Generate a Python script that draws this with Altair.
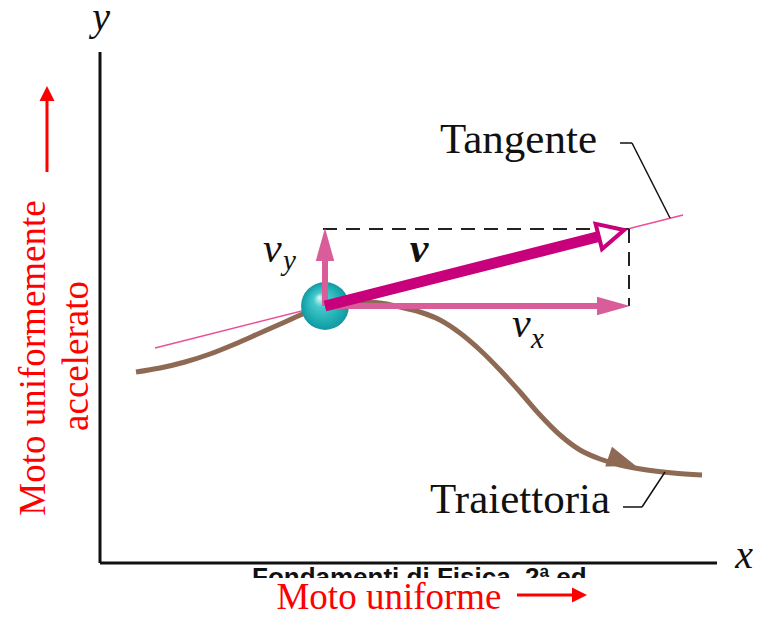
import altair as alt
import pandas as pd

# ---------------- data (diagram frame: origin at the axes corner) ----------------
X_DOMAIN = [-92, 656]
Y_DOMAIN = [-46, 555]

# trajectory (brown curve)
traj_x = [36, 60, 85, 110, 135, 160, 185, 205, 225, 252, 280, 300, 320, 340, 360, 380, 400, 420, 440, 460, 480, 500, 520, 547, 573, 602]
traj_y = [191, 195, 201, 209, 219, 230, 241, 250, 257, 261, 260, 256, 251, 243, 230, 213, 193, 171, 148, 128, 113, 104, 98, 93, 90, 88]

# particle
ball_x = [225]
ball_y = [257]

# axes
axis_x1 = [0, 0]
axis_y1 = [0, 0]
axis_x2 = [0, 617]
axis_y2 = [511, 0]

# tangent line
tan_x1, tan_y1, tan_x2, tan_y2 = [55], [215], [583], [348]

# dashed projection lines
dash_x1 = [223, 529]
dash_y1 = [334, 334]
dash_x2 = [529, 529]
dash_y2 = [334, 257]

# leader lines (Tangente, Traiettoria)
lead_x1 = [520, 532, 523, 542]
lead_y1 = [420, 420, 56, 56]
lead_x2 = [532, 570, 542, 565]
lead_y2 = [420, 345, 56, 91]

# velocity components (shafts)
comp_x1 = [225, 225]
comp_y1 = [257, 257]
comp_x2 = [500, 225]
comp_y2 = [257, 305]
# velocity vector shaft
vel_x1, vel_y1, vel_x2, vel_y2 = [225], [257], [501], [327]

# arrow heads: tip position and direction (degrees, clockwise from +x)
comp_head_x = [530, 225]
comp_head_y = [257, 335]
comp_head_a = [0, 270]
vel_head_x, vel_head_y, vel_head_a = [524], [333], [345.7]
traj_head_x, traj_head_y, traj_head_a = [536], [97], [19]

# red annotation arrows
red_x1 = [-53, 417]
red_y1 = [391, -32]
red_x2 = [-53, 475]
red_y2 = [463, -32]
red_head_x = [-53, 487]
red_head_y = [477, -32]
red_head_a = [270, 0]

# texts
axis_lab_x, axis_lab_y, axis_lab_t = [1, 644], [533, -5], ["y", "x"]
name_lab_x, name_lab_y, name_lab_t = [340], [410], ["Tangente"]
traj_lab_x, traj_lab_y, traj_lab_t = [510], [50], ["Traiettoria"]
vbold_x, vbold_y, vbold_t = [319], [301], ["v"]
vcomp_x, vcomp_y, vcomp_t = [163, 412], [301, 226], ["v", "v"]
vsub_x, vsub_y, vsub_t = [183, 431], [293, 215], ["y", "x"]
red_h_x, red_h_y, red_h_t = [289], [-46], ["Moto uniforme"]
red_v_x, red_v_y, red_v_t = [-55, -12], [205, 207], ["Moto uniformemente", "accelerato"]
src_x, src_y, src_t = [152], [-23], ["Fondamenti di Fisica, 2ª ed."]
cover_x1, cover_y1, cover_x2, cover_y2 = [140], [-15], [560], [-46]

# ---------------- helpers ----------------
XS = alt.Scale(domain=X_DOMAIN, nice=False, zero=False)
YS = alt.Scale(domain=Y_DOMAIN, nice=False, zero=False)


def X(f="x"):
    return alt.X(f"{f}:Q", scale=XS, axis=None)


def Y(f="y"):
    return alt.Y(f"{f}:Q", scale=YS, axis=None)


def segs(x1, y1, x2, y2, **kw):
    df = pd.DataFrame({"x": x1, "y": y1, "x2": x2, "y2": y2})
    return alt.Chart(df).mark_rule(**kw).encode(
        x=X("x"), y=Y("y"), x2="x2:Q", y2="y2:Q")


def heads(xs, ys, angs, length, half, **kw):
    df = pd.DataFrame({"x": xs, "y": ys, "a": angs})
    shape = f"M0,0L-1,-{half}L-1,{half}Z"
    return alt.Chart(df).mark_point(shape=shape, size=(2 * length) ** 2, **kw).encode(
        x=X("x"), y=Y("y"), angle=alt.Angle("a:Q", scale=None))


def texts(xs, ys, ts, **kw):
    df = pd.DataFrame({"x": xs, "y": ys, "t": ts})
    return alt.Chart(df).mark_text(**kw).encode(x=X("x"), y=Y("y"), text="t:N")


SERIF = "Liberation Serif"
BROWN = "#8e6a55"
PINK = "#d85d98"
MAGENTA = "#c8007c"
RED = "#ff0000"

# ---------------- layers ----------------
src_text = texts(src_x, src_y, src_t, font="Liberation Sans", fontWeight="bold",
                 fontSize=26, align="left", baseline="alphabetic", color="#111")
cover = alt.Chart(pd.DataFrame({"x": cover_x1, "y": cover_y1, "x2": cover_x2, "y2": cover_y2})).mark_rect(
    color="white").encode(x=X("x"), y=Y("y"), x2="x2:Q", y2="y2:Q")

axes = segs(axis_x1, axis_y1, axis_x2, axis_y2, color="#111", strokeWidth=3)

traj_df = pd.DataFrame({"x": traj_x, "y": traj_y, "i": range(len(traj_x))})
traj = alt.Chart(traj_df).mark_line(color=BROWN, strokeWidth=5, interpolate="catmull-rom").encode(
    x=X("x"), y=Y("y"), order="i:Q")
traj_head = heads(traj_head_x, traj_head_y, traj_head_a, 29, 0.36, filled=True, color=BROWN, opacity=1)

tangent = segs(tan_x1, tan_y1, tan_x2, tan_y2, color="#ea4f97", strokeWidth=1.5)
leaders = segs(lead_x1, lead_y1, lead_x2, lead_y2, color="#111", strokeWidth=1.5)
dashed = segs(dash_x1, dash_y1, dash_x2, dash_y2, color="#222", strokeWidth=2, strokeDash=[14, 9])

ball_fill = {
    "gradient": "radial",
    "x1": 0.38, "y1": 0.32, "r1": 0.0,
    "x2": 0.5, "y2": 0.5, "r2": 0.5,
    "stops": [
        {"offset": 0.0, "color": "#e3fafa"},
        {"offset": 0.3, "color": "#45cacd"},
        {"offset": 0.8, "color": "#1aa9af"},
        {"offset": 1.0, "color": "#1596a0"},
    ],
}
ball = alt.Chart(pd.DataFrame({"x": ball_x, "y": ball_y})).mark_point(
    shape="circle", size=2290, filled=True, fill=ball_fill, opacity=1, strokeWidth=0).encode(
    x=X("x"), y=Y("y"))

comps = segs(comp_x1, comp_y1, comp_x2, comp_y2, color=PINK, strokeWidth=6)
comp_heads = heads(comp_head_x, comp_head_y, comp_head_a, 33, 0.28, filled=True, color=PINK, opacity=1)
vel = segs(vel_x1, vel_y1, vel_x2, vel_y2, color=MAGENTA, strokeWidth=11)
vel_head = heads(vel_head_x, vel_head_y, vel_head_a, 26, 0.5, filled=True, fill="white",
                 stroke=MAGENTA, strokeWidth=4, opacity=1)

red_arrows = segs(red_x1, red_y1, red_x2, red_y2, color=RED, strokeWidth=3)
red_heads = heads(red_head_x, red_head_y, red_head_a, 15, 0.5, filled=True, color=RED, opacity=1)

t_axes = texts(axis_lab_x, axis_lab_y, axis_lab_t, font=SERIF, fontStyle="italic", fontSize=40,
               align="center", baseline="alphabetic", color="#111")
t_tan = texts(name_lab_x, name_lab_y, name_lab_t, font=SERIF, fontSize=43,
              align="left", baseline="alphabetic", color="#111")
t_traj = texts(traj_lab_x, traj_lab_y, traj_lab_t, font=SERIF, fontSize=43,
               align="right", baseline="alphabetic", color="#111")
t_vbold = texts(vbold_x, vbold_y, vbold_t, font=SERIF, fontStyle="italic", fontWeight="bold",
                fontSize=42, align="center", baseline="alphabetic", color="#111")
t_vcomp = texts(vcomp_x, vcomp_y, vcomp_t, font=SERIF, fontStyle="italic", fontSize=42,
                align="left", baseline="alphabetic", color="#111")
t_vsub = texts(vsub_x, vsub_y, vsub_t, font=SERIF, fontStyle="italic", fontSize=29,
               align="left", baseline="alphabetic", color="#111")
t_red_h = texts(red_h_x, red_h_y, red_h_t, font=SERIF, fontSize=37,
                align="center", baseline="alphabetic", color=RED)
t_red_v = texts(red_v_x, red_v_y, red_v_t, font=SERIF, fontSize=37, angle=270,
                align="center", baseline="alphabetic", color=RED)

chart = alt.layer(
    src_text, cover, axes, traj, traj_head, tangent, leaders, dashed, ball,
    comps, comp_heads, vel, vel_head, red_arrows, red_heads,
    t_axes, t_tan, t_traj, t_vbold, t_vcomp, t_vsub, t_red_h, t_red_v,
).properties(
    width=748, height=601, padding=0, autosize=alt.AutoSizeParams(type="none"),
    background="white",
).configure_view(stroke=None)

chart.save("out.html", embed_options={"renderer": "svg", "actions": False})
